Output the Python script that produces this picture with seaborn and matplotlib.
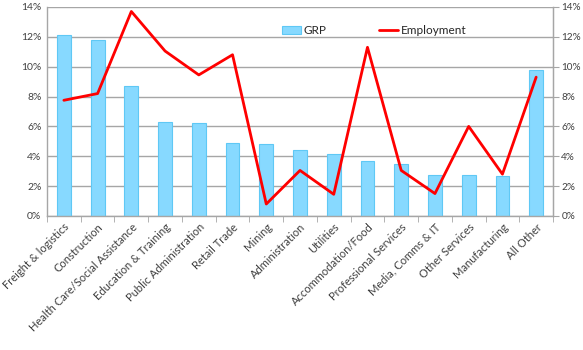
import matplotlib
matplotlib.use("Agg")
import matplotlib.pyplot as plt
import seaborn as sns
import numpy as np
import pandas as pd
from matplotlib.ticker import FuncFormatter, MultipleLocator, FixedLocator

categories = ["Freight & logistics", "Construction", "Health Care/Social Assistance",
              "Education & Training", "Public Administration", "Retail Trade", "Mining",
              "Administration", "Utilities", "Accommodation/Food", "Professional Services",
              "Media, Comms & IT", "Other Services", "Manufacturing", "All Other"]
grp = [12.1, 11.8, 8.7, 6.3, 6.2, 4.9, 4.85, 4.45, 4.15, 3.7, 3.5, 2.75, 2.75, 2.7, 9.75]
employment = [7.75, 8.2, 13.7, 11.05, 9.45, 10.8, 0.8, 3.05, 1.45, 11.3, 3.05, 1.5, 6.0, 2.8, 9.3]

sns.set_style("white")
plt.rcParams['font.family'] = ['Lato', 'DejaVu Sans']

df = pd.DataFrame({"cat": categories, "GRP": grp, "Employment": employment,
                   "pos": np.arange(len(categories))})

fig = plt.figure(figsize=(5.83, 3.5), dpi=100)
ax = fig.add_axes([0.0806, 0.383, 0.868, 0.597])

sns.barplot(data=df, x="cat", y="GRP", ax=ax, color="#87D9FF", width=0.41,
            edgecolor="#5FC8F5", linewidth=0.8, saturation=1, label="GRP", zorder=2)
sns.lineplot(data=df, x="pos", y="Employment", ax=ax, color="#FF0000", linewidth=2,
             sort=False, label="Employment", zorder=3)

fmt = FuncFormatter(lambda v, p: f"{v:.0f}%")
ax.set_ylim(0, 14)
ax.set_xlim(-0.5, len(categories) - 0.5)
ax.yaxis.set_major_locator(MultipleLocator(2))
ax.yaxis.set_major_formatter(fmt)
ax.grid(axis="y", color="#A6A6A6", linewidth=1, zorder=0)
ax.set_axisbelow(True)
ax.set_xlabel("")
ax.set_ylabel("")
ax.set_xticks(np.arange(len(categories)))
ax.set_xticklabels(categories, rotation=45, ha="right", rotation_mode="anchor", fontsize=8)
ax.xaxis.set_minor_locator(FixedLocator(np.arange(-0.5, len(categories), 1)))
ax.tick_params(axis="x", which="major", length=0, pad=4)
ax.tick_params(axis="x", which="minor", length=4, color="#A6A6A6", bottom=True)
ax.tick_params(axis="y", length=0, labelsize=7.5, colors="#404040", pad=4)
for lab in ax.get_xticklabels():
    lab.set_color("#404040")

ax.spines["top"].set_visible(False)
for s in ["left", "right", "bottom"]:
    ax.spines[s].set_color("#A6A6A6")
    ax.spines[s].set_linewidth(1)

ax2 = ax.twinx()
ax2.set_ylim(0, 14)
ax2.yaxis.set_major_locator(MultipleLocator(2))
ax2.yaxis.set_major_formatter(fmt)
ax2.tick_params(axis="y", length=4, color="#A6A6A6", labelsize=7.2, labelcolor="#404040", pad=2)
for s in ["top", "left", "bottom"]:
    ax2.spines[s].set_visible(False)
ax2.spines["right"].set_color("#A6A6A6")

handles, labels = ax.get_legend_handles_labels()
order = [labels.index("GRP"), labels.index("Employment")]
ax.legend([handles[i] for i in order], [labels[i] for i in order],
          loc="upper left", bbox_to_anchor=(0.455, 0.935), ncol=2, frameon=False,
          fontsize=8.5, handlelength=1.6, handletextpad=0.2, columnspacing=4.5,
          borderaxespad=0)

fig.savefig("out.png", dpi=100)
